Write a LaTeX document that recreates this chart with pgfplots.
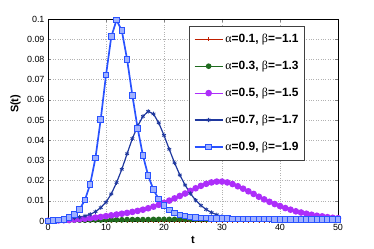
\documentclass[border=0pt]{standalone}
\usepackage{fontspec}
\setmainfont{Liberation Sans}
\newfontfamily\grk{Liberation Serif}
\usepackage{pgfplots}
\usepackage{pgfplotstable}
\pgfplotsset{compat=1.18}
\definecolor{cR}{rgb}{0.75,0.12,0.0}
\definecolor{cG}{rgb}{0.12,0.42,0.12}
\definecolor{cP}{rgb}{0.68,0.18,0.98}
\definecolor{cN}{rgb}{0.12,0.22,0.62}
\definecolor{cB}{rgb}{0.16,0.32,1.0}
\pgfplotstableread{
t r g p n b
0 0.00005 0.0002 0.0001 0.0003 0.0001
0.9091 0.00005 0.0002 0.0002 0.0004 0.0002
1.8182 0.00005 0.0003 0.0003 0.0006 0.0004
2.7273 0.00005 0.0003 0.0004 0.0008 0.0008
3.6364 0.00005 0.0003 0.0005 0.0011 0.0016
4.5455 0.00005 0.0004 0.0007 0.0015 0.0031
5.4545 0.00005 0.0004 0.0009 0.0019 0.0058
6.3636 0.00005 0.0004 0.0011 0.0025 0.0104
7.2727 0.00005 0.0005 0.0014 0.0033 0.0182
8.1818 0.00005 0.0005 0.0017 0.0046 0.0312
9.0909 0.00005 0.0005 0.0020 0.0066 0.0503
10 0.00005 0.0006 0.0024 0.0093 0.0722
10.9091 0.00005 0.0006 0.0028 0.0134 0.0912
11.8182 0.00005 0.0006 0.0032 0.0190 0.0995
12.7273 0.00005 0.0006 0.0036 0.0256 0.0942
13.6364 0.00005 0.0007 0.0040 0.0333 0.0800
14.5455 0.00005 0.0007 0.0045 0.0408 0.0622
15.4545 0.00005 0.0007 0.0050 0.0470 0.0459
16.3636 0.00005 0.0007 0.0056 0.0518 0.0325
17.2727 0.00005 0.0007 0.0063 0.0543 0.0225
18.1818 0.00005 0.0008 0.0071 0.0530 0.0155
19.0909 0.00005 0.0008 0.0080 0.0486 0.0108
20 0.00005 0.0008 0.0090 0.0424 0.0076
20.9091 0.00005 0.0008 0.0101 0.0355 0.0054
21.8182 0.00005 0.0008 0.0112 0.0288 0.0039
22.7273 0.00005 0.0008 0.0124 0.0228 0.0030
23.6364 0.00005 0.0008 0.0136 0.0178 0.0024
24.5455 0.00005 0.0008 0.0149 0.0136 0.0020
25.4545 0.00005 0.0008 0.0162 0.0103 0.0017
26.3636 0.00005 0.0008 0.0174 0.0077 0.0015
27.2727 0.00005 0.0008 0.0184 0.0057 0.0014
28.1818 0.00005 0.0008 0.0191 0.0042 0.0013
29.0909 0.00005 0.0008 0.0195 0.0031 0.0012
30 0.00005 0.0008 0.0195 0.0023 0.0011
30.9091 0.00005 0.0008 0.0191 0.0017 0.0011
31.8182 0.00005 0.0008 0.0183 0.0013 0.0010
32.7273 0.00005 0.0008 0.0172 0.0010 0.0010
33.6364 0.00005 0.0008 0.0160 0.0008 0.0010
34.5455 0.00005 0.0008 0.0147 0.0007 0.0009
35.4545 0.00005 0.0008 0.0134 0.0006 0.0009
36.3636 0.00005 0.0008 0.0120 0.0005 0.0009
37.2727 0.00005 0.0008 0.0107 0.0005 0.0009
38.1818 0.00005 0.0008 0.0095 0.0004 0.0009
39.0909 0.00005 0.0007 0.0084 0.0004 0.0008
40 0.00005 0.0007 0.0074 0.0004 0.0008
40.9091 0.00005 0.0007 0.0064 0.0003 0.0008
41.8182 0.00005 0.0007 0.0056 0.0003 0.0008
42.7273 0.00005 0.0007 0.0048 0.0003 0.0008
43.6364 0.00005 0.0007 0.0042 0.0003 0.0008
44.5455 0.00005 0.0006 0.0036 0.0003 0.0008
45.4545 0.00005 0.0006 0.0031 0.0002 0.0007
46.3636 0.00005 0.0006 0.0026 0.0002 0.0007
47.2727 0.00005 0.0006 0.0023 0.0002 0.0007
48.1818 0.00005 0.0006 0.0019 0.0002 0.0007
49.0909 0.00005 0.0006 0.0016 0.0002 0.0007
50 0.00005 0.0006 0.0014 0.0002 0.0007
}\data
\begin{document}
\begin{tikzpicture}
\path[use as bounding box] (-48bp,-28bp) rectangle (326bp,221bp);
\begin{axis}[
  at={(0,0)}, anchor=south west,
  scale only axis, width=290bp, height=202bp,
  xmin=0, xmax=50, ymin=0, ymax=0.1,
  xtick={0,10,20,30,40,50},
  xticklabels={0,10,20,30,40,50},
  ytick={0,0.01,0.02,0.03,0.04,0.05,0.06,0.07,0.08,0.09,0.1},
  yticklabels={0,0.01,0.02,0.03,0.04,0.05,0.06,0.07,0.08,0.09,0.1},
  scaled y ticks=false,
  tick align=inside, major tick length=3bp,
  grid=major, major grid style={dotted, black!30, line width=0.5pt},
  tick label style={font=\fontsize{9}{10}\selectfont},
  axis line style={line width=0.6pt},
  clip=false,
  xlabel={t}, ylabel={S(t)},
  label style={font=\fontsize{11}{13}\selectfont\bfseries},
  xlabel style={at={(axis description cs:0.5,0)}, anchor=center, yshift=-19bp},
  ylabel style={at={(axis description cs:-0.112,0.58)}, anchor=center},
  legend cell align=left,
  legend image code/.code={\draw[mark repeat=2,mark phase=2,#1] plot coordinates {(0bp,0bp) (14bp,0bp) (28bp,0bp)};},
  legend style={at={(axis description cs:0.886,0.965)}, anchor=north east,
    draw=black!75, line width=0.6pt, fill=white,
    font=\fontsize{12}{14}\selectfont\bfseries,
    row sep=13bp, inner xsep=4bp, inner ysep=6bp},
]
\addplot[cR, line width=1.2pt, mark=+, mark size=2pt, mark options={solid,line width=0.8pt}] table[x=t,y=r]{\data};
\addlegendentry{{\grk\mdseries α}=0.1, {\grk\mdseries β}=−1.1}
\addplot[cG, line width=1.2pt, mark=*, mark size=2.2pt, mark options={fill=cG}] table[x=t,y=g]{\data};
\addlegendentry{{\grk\mdseries α}=0.3, {\grk\mdseries β}=−1.3}
\addplot[cP, line width=1.2pt, mark=*, mark size=2.7pt, mark options={fill=cP}] table[x=t,y=p]{\data};
\addlegendentry{{\grk\mdseries α}=0.5, {\grk\mdseries β}=−1.5}
\addplot[cN, line width=1.2pt, mark=asterisk, mark size=2.2pt, mark options={line width=0.8pt}] table[x=t,y=n]{\data};
\addlegendentry{{\grk\mdseries α}=0.7, {\grk\mdseries β}=−1.7}
\addplot[cB, line width=1.7pt, mark=square*, mark size=2.8pt, mark options={fill=cB!45, line width=1pt}] table[x=t,y=b]{\data};
\addlegendentry{{\grk\mdseries α}=0.9, {\grk\mdseries β}=−1.9}
\end{axis}
\end{tikzpicture}
\end{document}
